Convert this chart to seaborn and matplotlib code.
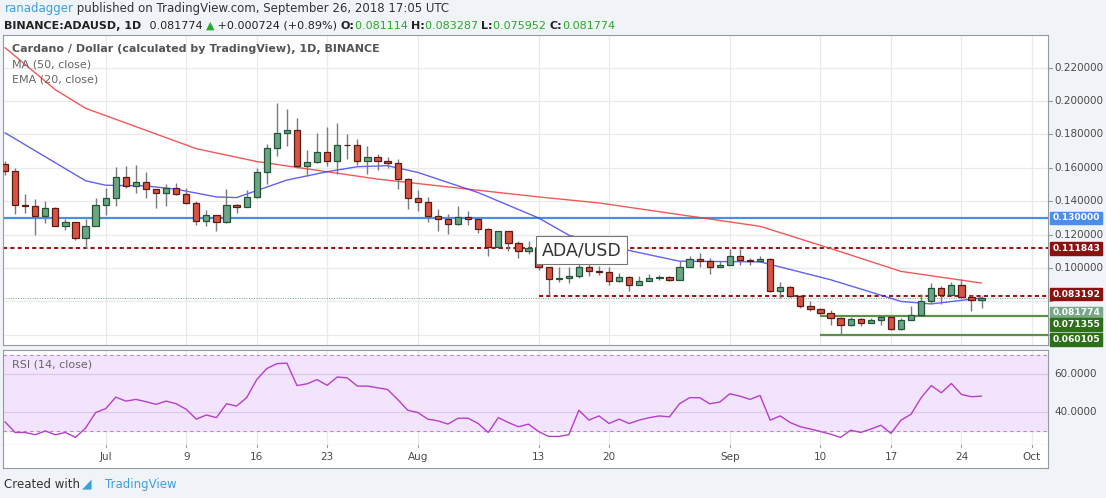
import numpy as np
import pandas as pd
import matplotlib
matplotlib.use("Agg")
import matplotlib.pyplot as plt
import seaborn as sns

# daily candles, 2018-06-21 .. 2018-09-26 (opens = previous close)
first_open = 0.1624
close = [0.1583, 0.1380, 0.1371, 0.1311, 0.1357, 0.1250, 0.1274, 0.1179, 0.1254, 0.1380,
         0.1422, 0.1547, 0.1492, 0.1517, 0.1472, 0.1452, 0.1478, 0.1446, 0.1391, 0.1280,
         0.1315, 0.1274, 0.1377, 0.1365, 0.1426, 0.1573, 0.1720, 0.1811, 0.1826, 0.1613,
         0.1638, 0.1698, 0.1644, 0.1739, 0.1735, 0.1644, 0.1668, 0.1644, 0.1630, 0.1533,
         0.1418, 0.1397, 0.1311, 0.1294, 0.1264, 0.1304, 0.1294, 0.1236, 0.1125, 0.1220,
         0.1149, 0.1102, 0.1119, 0.1005, 0.0937, 0.0941, 0.0951, 0.1005, 0.0985, 0.0975,
         0.0921, 0.0947, 0.0897, 0.0921, 0.0943, 0.0947, 0.0931, 0.1005, 0.1055, 0.1041,
         0.1005, 0.1017, 0.1071, 0.1047, 0.1041, 0.1055, 0.0861, 0.0885, 0.0831, 0.0771,
         0.0757, 0.0731, 0.0701, 0.0661, 0.0697, 0.0671, 0.0691, 0.0705, 0.0637, 0.0691,
         0.0721, 0.0805, 0.0881, 0.0837, 0.0901, 0.0825, 0.0811, 0.081774]
high = [0.1640, 0.1600, 0.1442, 0.1412, 0.1400, 0.1366, 0.1296, 0.1274, 0.1296, 0.1422,
        0.1482, 0.1607, 0.1613, 0.1620, 0.1573, 0.1472, 0.1506, 0.1512, 0.1482, 0.1400,
        0.1347, 0.1315, 0.1476, 0.1381, 0.1466, 0.1599, 0.1745, 0.1991, 0.1953, 0.1896,
        0.1708, 0.1810, 0.1846, 0.1866, 0.1805, 0.1775, 0.1729, 0.1684, 0.1668, 0.1654,
        0.1539, 0.1468, 0.1426, 0.1351, 0.1321, 0.1371, 0.1341, 0.1296, 0.1240, 0.1224,
        0.1220, 0.1163, 0.1163, 0.1170, 0.1005, 0.1005, 0.1005, 0.1031, 0.1045, 0.1010,
        0.1005, 0.0971, 0.0951, 0.0951, 0.0965, 0.0960, 0.0955, 0.1041, 0.1075, 0.1091,
        0.1061, 0.1041, 0.1117, 0.1117, 0.1061, 0.1071, 0.1061, 0.0917, 0.0891, 0.0841,
        0.0801, 0.0761, 0.0751, 0.0705, 0.0705, 0.0701, 0.0701, 0.0711, 0.0711, 0.0701,
        0.0771, 0.0845, 0.0911, 0.0891, 0.0917, 0.0937, 0.0841, 0.083287]
low = [0.1560, 0.1325, 0.1330, 0.1200, 0.1270, 0.1250, 0.1230, 0.1170, 0.1119, 0.1250,
       0.1320, 0.1370, 0.1480, 0.1452, 0.1422, 0.1360, 0.1370, 0.1440, 0.1385, 0.1256,
       0.1250, 0.1224, 0.1270, 0.1330, 0.1365, 0.1420, 0.1506, 0.1674, 0.1729, 0.1600,
       0.1553, 0.1630, 0.1610, 0.1563, 0.1654, 0.1620, 0.1563, 0.1590, 0.1600, 0.1472,
       0.1351, 0.1340, 0.1276, 0.1224, 0.1204, 0.1260, 0.1256, 0.1210, 0.1074, 0.1119,
       0.1102, 0.1058, 0.1082, 0.0990, 0.0841, 0.0917, 0.0911, 0.0941, 0.0951, 0.0961,
       0.0897, 0.0917, 0.0865, 0.0897, 0.0921, 0.0931, 0.0921, 0.0931, 0.1005, 0.1005,
       0.0965, 0.1005, 0.1017, 0.1017, 0.1021, 0.1041, 0.0857, 0.0821, 0.0825, 0.0761,
       0.0741, 0.0717, 0.0661, 0.0601, 0.0651, 0.0651, 0.0671, 0.0661, 0.0631, 0.0631,
       0.0691, 0.0717, 0.0791, 0.0785, 0.0831, 0.0821, 0.0745, 0.075952]

# moving averages at (day index, value)
ma50_idx = [0, 5, 8, 19, 25, 37, 44, 53, 59, 75, 82, 89, 97]
ma50_val = [0.232, 0.2068, 0.1957, 0.1715, 0.1638, 0.1533, 0.1486, 0.1426, 0.139, 0.125, 0.1117, 0.098, 0.091]
ema20_idx = [0, 8, 10, 14, 17, 21, 23, 28, 32, 35, 38, 41, 47, 53, 56, 62, 67, 75, 82, 89, 92, 97]
ema20_val = [0.181, 0.1523, 0.1496, 0.1492, 0.1472, 0.1426, 0.1422, 0.1527, 0.1577, 0.1607, 0.1613,
             0.1573, 0.1452, 0.1300, 0.1197, 0.1105, 0.1041, 0.1037, 0.093, 0.080, 0.0785, 0.0821]

rsi = [34.8, 29.2, 29.2, 28.0, 30.0, 28.0, 29.2, 26.6, 31.5, 39.7, 41.7, 47.8, 45.7, 46.6, 45.4,
       44.0, 45.7, 44.3, 41.4, 36.2, 38.4, 37.0, 44.3, 43.1, 47.5, 57.0, 62.8, 65.4, 65.7, 53.9,
       54.8, 57.0, 54.0, 58.4, 57.9, 53.6, 53.6, 52.7, 51.8, 46.6, 40.9, 39.7, 36.2, 35.3, 33.6,
       36.7, 36.7, 33.9, 29.2, 37.0, 34.4, 32.2, 33.6, 29.7, 27.1, 27.1, 28.0, 40.9, 35.7, 37.9,
       33.9, 36.2, 33.9, 35.7, 37.0, 37.9, 37.4, 44.3, 47.5, 47.5, 44.3, 45.2, 49.6, 48.3, 46.6,
       48.7, 35.7, 37.9, 34.4, 32.2, 31.0, 29.7, 28.3, 26.6, 30.4, 29.2, 31.0, 33.0, 28.7, 35.7,
       38.8, 47.5, 53.9, 50.1, 55.0, 49.2, 48.0, 48.3]

tick_idx = [10, 18, 25, 32, 41, 53, 60, 72, 81, 88, 95, 102]
tick_lab = ["Jul", "9", "16", "23", "Aug", "13", "20", "Sep", "10", "17", "24", "Oct"]
price_ticks = [0.06, 0.08, 0.10, 0.12, 0.14, 0.16, 0.18, 0.20, 0.22]
price_labels_shown = [0.10, 0.12, 0.14, 0.16, 0.18, 0.20, 0.22]

level_blue = 0.130000
level_top = 0.111843
level_mid = 0.083192
last_price = 0.081774
level_sup1 = 0.071355
level_sup2 = 0.060105

df = pd.DataFrame({"close": close, "high": high, "low": low})
df["open"] = [first_open] + close[:-1]
df["idx"] = np.arange(len(df))
df["rsi"] = rsi

sns.set_style("white")
fig = plt.figure(figsize=(11.06, 4.98), dpi=100)
fig.patch.set_facecolor("#f0f3f7")
L, R = 3 / 1106, 1048 / 1106
ax = fig.add_axes([L, 1 - 345 / 498, R - L, 310 / 498])
ax2 = fig.add_axes([L, 1 - 445 / 498, R - L, 95 / 498])
# white band under the rsi pane holding date labels
band = fig.add_axes([L, 1 - 468 / 498, R - L, 23 / 498])
band.set_xticks([]); band.set_yticks([])
for s in band.spines.values():
    s.set_color("#9598a1")
band.spines["top"].set_visible(False)

xl = (-0.2, 103.6)
grid_c = "#e9eaed"
for a in (ax, ax2):
    a.set_xlim(*xl)
    a.set_facecolor("white")
    for t in tick_idx:
        a.axvline(t, color=grid_c, lw=0.9, zorder=0)
    for s in a.spines.values():
        s.set_color("#9598a1")
band.set_xlim(*xl)

ax.set_ylim(0.0539, 0.2396)
for p in price_ticks:
    ax.axhline(p, color=grid_c, lw=0.9, zorder=0)

# horizontal levels
ax.axhline(level_blue, color="#4a8fe7", lw=1.6, zorder=1)
ax.axhline(level_top, color="#a31515", lw=1.5, ls=(0, (2, 1.5)), zorder=1)
ax.axhline(last_price, color="#6fa87e", lw=0.7, ls=(0, (1, 1.5)), zorder=1)
ax.hlines(level_mid, 53, xl[1], color="#a31515", lw=1.5, ls=(0, (2, 1.5)), zorder=1)
ax.hlines([level_sup1, level_sup2], 81, xl[1], color="#5c8f47", lw=1.6, zorder=1)

# moving averages
sns.lineplot(x=ma50_idx, y=ma50_val, ax=ax, color="#f23b3b", lw=1.0, alpha=0.85, zorder=2)
sns.lineplot(x=ema20_idx, y=ema20_val, ax=ax, color="#3a3af0", lw=1.0, alpha=0.8, zorder=2)

# candles
up = df["close"] >= df["open"]
ax.vlines(df["idx"], df["low"], df["high"], color="#7a7a80", lw=1.0, zorder=3)
for m, fc, ec in ((up, "#6ba583", "#225437"), (~up, "#d75442", "#5b1a13")):
    d = df[m]
    bot = np.minimum(d["open"], d["close"])
    hgt = np.maximum((d["open"] - d["close"]).abs(), 0.0004)
    ax.bar(d["idx"], hgt, bottom=bot, width=0.62, color=fc, edgecolor=ec, lw=0.9, zorder=4)

ax.set_xticks([]); ax.set_yticks([])
ax.set_xlabel(""); ax.set_ylabel("")

# right price scale
for p in price_ticks:
    ax.plot([1.0, 1.004], [p, p], transform=ax.get_yaxis_transform(), color="#9598a1",
            lw=0.8, clip_on=False)
for p in price_labels_shown:
    ax.text(1.006, p, f"{p:.6f}", transform=ax.get_yaxis_transform(), fontsize=7.5,
            color="#4a4a4a", va="center", ha="left")

# price tags, shifted apart like the original scale does
tags = [(level_blue, 0.0, "#4a8fe7"), (level_top, 0.0, "#8b1010"), (level_mid, 0.0012, "#8b1010"),
        (last_price, -0.0087, "#79a886"), (level_sup1, -0.0051, "#2f6e1b"), (level_sup2, -0.0030, "#2f6e1b")]
for val, shift, col in tags:
    ax.text(1.004, val + shift, f"{val:.6f}", transform=ax.get_yaxis_transform(), fontsize=6.6,
            color="white", va="center", ha="left", fontweight="bold",
            bbox=dict(boxstyle="square,pad=0.2", fc=col, ec=col))

ax.text(53.3, 0.1108, "ADA/USD", fontsize=12.5, color="#333333", ha="left", va="center", zorder=6,
        bbox=dict(boxstyle="square,pad=0.3", fc="white", ec="#777777", lw=0.8))

ax.text(0.009, 0.955, "Cardano / Dollar (calculated by TradingView), 1D, BINANCE", transform=ax.transAxes,
        fontsize=8, color="#555555", fontweight="bold", va="center")
ax.text(0.009, 0.905, "MA (50, close)", transform=ax.transAxes, fontsize=8, color="#666666", va="center")
ax.text(0.009, 0.855, "EMA (20, close)", transform=ax.transAxes, fontsize=8, color="#666666", va="center")

# RSI pane
ax2.set_ylim(22.6, 72.6)
ax2.axhspan(30, 70, color="#f3e4fd", zorder=0)
for lvl in (40, 60):
    ax2.axhline(lvl, color="#dcc7ea", lw=0.9, zorder=0)
ax2.axhline(70, color="#b08cc0", lw=0.8, ls=(0, (3, 3)))
ax2.axhline(30, color="#b08cc0", lw=0.8, ls=(0, (3, 3)))
sns.lineplot(data=df, x="idx", y="rsi", ax=ax2, color="#b53fc9", lw=1.0)
ax2.set_xticks([]); ax2.set_yticks([])
ax2.set_xlabel(""); ax2.set_ylabel("")
ax2.text(0.009, 0.85, "RSI (14, close)", transform=ax2.transAxes, fontsize=8, color="#666666", va="center")
for v in (40, 60):
    ax2.text(1.006, v, f"{v:.4f}", transform=ax2.get_yaxis_transform(), fontsize=7.5,
             color="#4a4a4a", va="center")
for t, lab in zip(tick_idx, tick_lab):
    band.text(t, 0.5, lab, fontsize=7.5, color="#4a4a4a", ha="center", va="center")
    band.plot([t, t], [0.9, 1.0], color="#9598a1", lw=0.8)
band.set_ylim(0, 1)


def text_row(parts, x0, y, size):
    # lay out text pieces one after another
    renderer = fig.canvas.get_renderer()
    x = x0
    for s, col, bold in parts:
        t = fig.text(x, y, s, fontsize=size, color=col, va="center",
                     fontweight="bold" if bold else "normal")
        bb = t.get_window_extent(renderer)
        x += bb.width / fig.bbox.width


text_row([("ranadagger", "#3aa0e0", False),
          (" published on TradingView.com, September 26, 2018 17:05 UTC", "#333333", False)],
         0.004, 0.982, 8.5)
text_row([("BINANCE:ADAUSD, 1D ", "#222222", True),
          (" 0.081774 ", "#222222", False), ("\u25B2", "#28a828", False),
          (" +0.000724 (+0.89%) ", "#222222", False),
          ("O:", "#222222", True), ("0.081114 ", "#28a828", False),
          ("H:", "#222222", True), ("0.083287 ", "#28a828", False),
          ("L:", "#222222", True), ("0.075952 ", "#28a828", False),
          ("C:", "#222222", True), ("0.081774", "#28a828", False)],
         0.004, 0.948, 8)
fig.text(0.004, 0.028, "Created with", fontsize=8.5, color="#333333", va="center")
fig.text(0.074, 0.028, "\u25E2", fontsize=9, color="#3aa0e0", va="center")
fig.text(0.095, 0.028, "TradingView", fontsize=8.5, color="#3aa0e0", va="center")

fig.savefig("out.png", dpi=100, facecolor=fig.get_facecolor())
